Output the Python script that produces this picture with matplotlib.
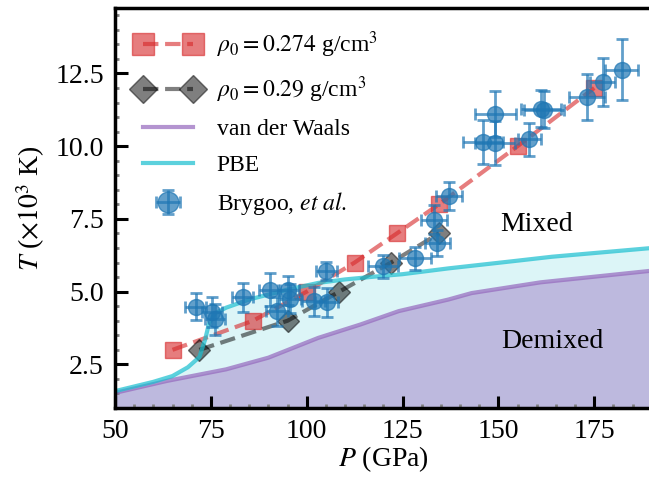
import matplotlib
matplotlib.use("Agg")
import matplotlib.pyplot as plt
from matplotlib.ticker import MultipleLocator, FormatStrFormatter
from matplotlib.container import ErrorbarContainer
from matplotlib.legend_handler import HandlerErrorbar

plt.rcParams['font.family'] = ['Liberation Serif', 'DejaVu Serif']
plt.rcParams['mathtext.fontset'] = 'stix'

# rho_0 = 0.274 g/cm^3
p_274 = [65, 86, 100, 112.5, 123.5, 134.5, 155, 175]
t_274 = [3.0, 4.0, 5.0, 6.0, 7.0, 8.0, 10.0, 12.0]

# rho_0 = 0.29 g/cm^3
p_29 = [72, 95, 108.5, 122, 134.5]
t_29 = [3.0, 4.0, 5.0, 6.0, 7.0]

# demixing curves
p_vdw = [50, 63.5, 79, 90, 103, 114, 124, 137, 143, 161, 190]
t_vdw = [1.52, 1.93, 2.33, 2.73, 3.41, 3.87, 4.33, 4.73, 4.95, 5.32, 5.72]

p_pbe = [50, 60, 65, 69, 72, 73.5, 74.5, 76, 79, 85, 95, 103, 110, 118, 125, 137, 154, 164, 190]
t_pbe = [1.58, 1.9, 2.1, 2.4, 2.75, 3.35, 3.9, 4.25, 4.45, 4.73, 5.07, 5.3, 5.42, 5.52, 5.6, 5.8, 6.05, 6.2, 6.5]

# Brygoo et al. experiment
p_exp = [71, 75.3, 76, 83.3, 90.3, 92.2, 95.2, 95.7, 101.8, 105.2, 105.1, 120, 128.3,
         133.2, 134.1, 137.2, 146.1, 149.2, 149.2, 158.1, 161.1, 162, 173.1, 177.2, 182.2]
t_exp = [4.48, 4.3, 4.05, 4.8, 5.07, 4.33, 5.05, 4.75, 4.67, 4.63, 5.7, 5.87, 6.15,
         7.47, 6.67, 8.29, 10.15, 10.11, 11.1, 10.23, 11.29, 11.26, 11.69, 12.2, 12.63]
p_err = [2.8, 2.6, 2.6, 2.8, 2.8, 2.8, 2.8, 2.8, 3.0, 3.0, 2.8, 3.9, 4.1,
         3.3, 3.3, 3.4, 5.2, 5.2, 5.4, 3.1, 5.2, 5.2, 4.6, 3.3, 4.3]
t_err = [0.47, 0.5, 0.54, 0.49, 0.57, 0.5, 0.5, 0.5, 0.5, 0.5, 0.31, 0.4, 0.4,
         0.5, 0.45, 0.49, 0.75, 0.75, 0.8, 0.57, 0.64, 0.64, 0.8, 0.83, 1.05]


def draw():
    fig = plt.figure(figsize=(6.49, 4.78), dpi=100)
    ax = fig.add_axes([0.1772, 0.1464, 0.827, 0.8369])

    ax.fill_between(p_pbe, 0, t_pbe, color='tab:cyan', alpha=0.15, lw=0)
    ax.fill_between(p_vdw, 0, t_vdw, color='tab:purple', alpha=0.42, lw=0)

    ax.plot(p_274, t_274, '--s', color='tab:red', alpha=0.6, lw=3, ms=12,
            label=r'$\rho_0=0.274$ g/cm$^3$')
    ax.plot(p_29, t_29, '--D', color='black', alpha=0.5, lw=3, ms=11,
            label=r'$\rho_0=0.29$ g/cm$^3$')
    ax.plot(p_vdw, t_vdw, color='tab:purple', alpha=0.7, lw=3, label='van der Waals')
    ax.plot(p_pbe, t_pbe, color='tab:cyan', alpha=0.7, lw=3, label='PBE')
    ax.errorbar(p_exp, t_exp, xerr=p_err, yerr=t_err, fmt='o', color='tab:blue',
                alpha=0.7, ms=11.5, elinewidth=2, capsize=4.5, capthick=2,
                label=r'Brygoo, $et\ al.$')

    ax.text(160, 7.3, 'Mixed', fontsize=20, ha='center', va='center')
    ax.text(164, 3.3, 'Demixed', fontsize=20, ha='center', va='center')

    ax.set_xlim(50, 190)
    ax.set_ylim(1.0, 14.75)
    ax.xaxis.set_major_locator(MultipleLocator(25))
    ax.xaxis.set_minor_locator(MultipleLocator(5))
    ax.yaxis.set_major_locator(MultipleLocator(2.5))
    ax.yaxis.set_minor_locator(MultipleLocator(0.5))
    ax.yaxis.set_major_formatter(FormatStrFormatter('%.1f'))

    ax.tick_params(which='major', direction='in', length=9, width=2.2,
                   labelsize=20, pad=8)
    ax.tick_params(which='minor', direction='in', length=3, width=2, color='gray')
    ax.tick_params(top=False, right=False, which='both')
    for side in ['left', 'bottom', 'top']:
        ax.spines[side].set_linewidth(2.5)
    ax.spines['right'].set_visible(False)

    ax.set_xlabel(r'$P$ (GPa)', fontsize=20, labelpad=0)
    ax.set_ylabel(r'$T$ ($\times10^3$ K)', fontsize=20, labelpad=6)

    ax.legend(loc='upper left', frameon=False, fontsize=17, numpoints=2,
              markerscale=1.3, handlelength=2.7, handletextpad=0.7,
              labelspacing=0.6,
              handler_map={ErrorbarContainer: HandlerErrorbar(numpoints=1)})

    fig.savefig('out.png', dpi=100)


if __name__ == "__main__":
    draw()
